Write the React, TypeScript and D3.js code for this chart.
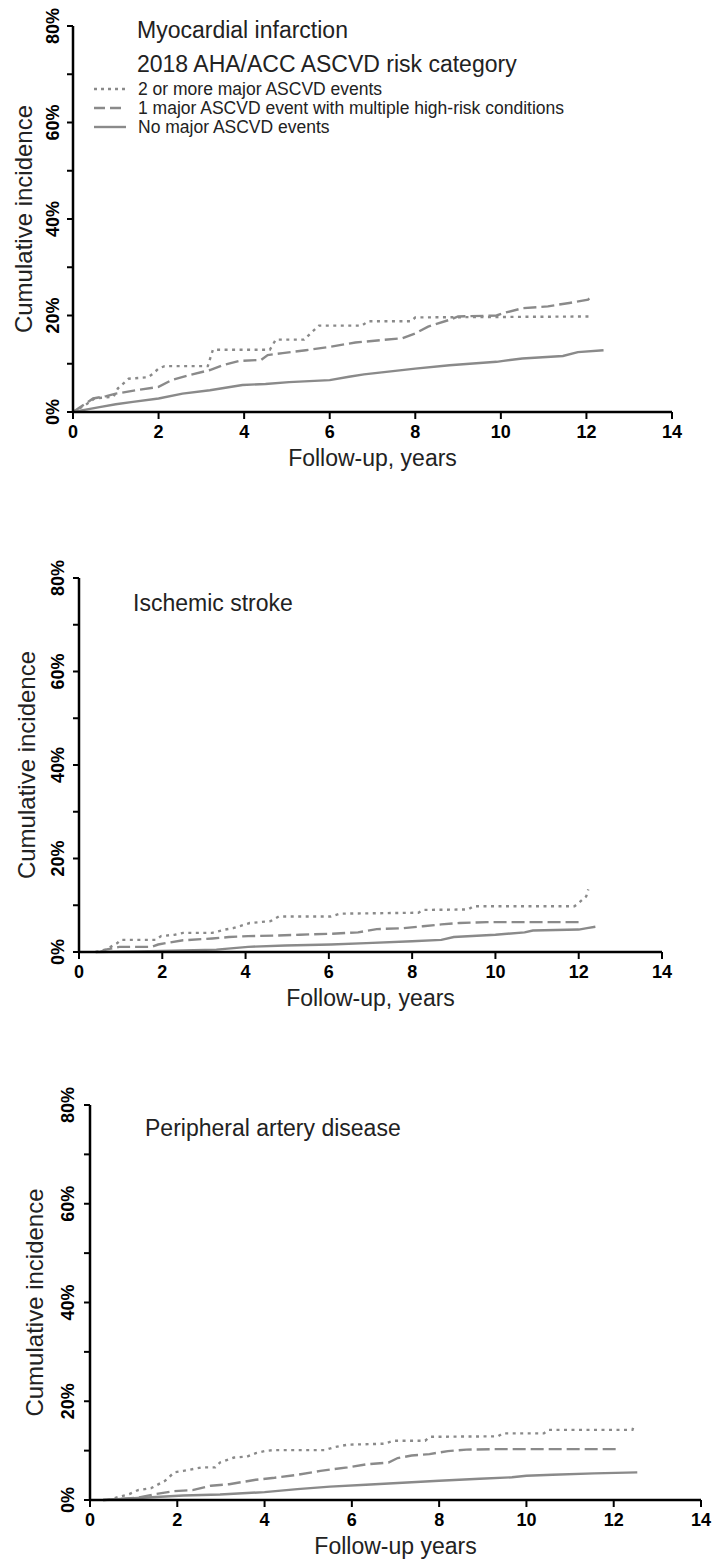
import React from "react";
import * as d3 from "d3";

// ---------- data (years, cumulative incidence %) ----------
const xTicks = [0, 2, 4, 6, 8, 10, 12, 14];
const yMajorTicks = [0, 20, 40, 60, 80];
const yMinorTicks = [10, 30, 50, 70];

const seriesNames = [
  "2 or more major ASCVD events",
  "1 major ASCVD event with multiple high-risk conditions",
  "No major ASCVD events",
];

const legendTitle = "2018 AHA/ACC ASCVD risk category";

// Myocardial infarction
const miTwoPlus: [number, number][] = [
  [0, 0], [0.3, 1.5], [0.5, 2.8], [0.95, 3.2], [1.05, 4.9], [1.3, 6.9], [1.75, 7.2],
  [1.85, 7.8], [2.0, 9.0], [2.14, 9.5], [3.15, 9.5], [3.27, 12.9], [4.6, 12.9], [4.74, 15.0],
  [5.4, 15.0], [5.6, 16.7], [5.75, 17.9], [6.75, 17.9], [6.9, 18.8], [7.9, 18.8], [8.0, 19.6],
  [12.1, 19.8],
];
const miOneMajor: [number, number][] = [
  [0, 0], [0.2, 1.2], [0.47, 2.8], [0.78, 3.3], [1.0, 3.8], [1.47, 4.5], [2.0, 5.2], [2.3, 6.6],
  [2.7, 7.6], [3.2, 8.7], [3.5, 9.7], [3.9, 10.6], [4.4, 10.8], [4.55, 11.8], [4.9, 12.2],
  [5.44, 12.8], [6.0, 13.5], [6.6, 14.4], [7.2, 14.9], [7.7, 15.3], [8.0, 16.3], [8.3, 17.7],
  [8.8, 19.1], [9.0, 19.8], [9.9, 20.0], [10.06, 20.5], [10.5, 21.5], [11.1, 21.9],
  [11.6, 22.6], [12.04, 23.3], [12.12, 24.0],
];
const miNone: [number, number][] = [
  [0, 0], [0.3, 0.5], [0.62, 1.0], [1.0, 1.6], [1.4, 2.1], [2.0, 2.8], [2.56, 3.8], [3.2, 4.5],
  [3.96, 5.6], [4.5, 5.8], [5.05, 6.2], [6.0, 6.6], [6.45, 7.3], [6.8, 7.8], [8.0, 9.0],
  [8.8, 9.7], [9.9, 10.4], [10.06, 10.6], [10.5, 11.1], [11.45, 11.6], [11.8, 12.4],
  [12.4, 12.8],
];

// Ischemic stroke
const stTwoPlus: [number, number][] = [
  [0.4, 0], [0.64, 0.5], [0.92, 1.9], [1.0, 2.6], [1.85, 2.6], [1.97, 3.4], [2.3, 3.7],
  [2.5, 4.1], [3.2, 4.1], [3.5, 4.8], [3.7, 5.1], [4.1, 6.2], [4.6, 6.6], [4.8, 7.6],
  [6.05, 7.6], [6.27, 8.2], [8.15, 8.4], [8.26, 9.0], [9.35, 9.1], [9.47, 9.8], [11.9, 9.8],
  [12.0, 10.5], [12.18, 11.9], [12.23, 13.4],
];
const stOneMajor: [number, number][] = [
  [0.5, 0], [0.64, 0.5], [0.97, 1.1], [1.74, 1.1], [1.9, 1.6], [2.08, 1.9], [2.5, 2.5],
  [3.2, 2.9], [3.6, 3.2], [4.06, 3.4], [4.7, 3.5], [5.3, 3.7], [6.05, 3.9], [6.7, 4.2],
  [7.15, 4.9], [7.8, 5.1], [8.26, 5.5], [8.7, 5.9], [9.14, 6.2], [9.8, 6.4], [12.0, 6.4],
];
const stNone: [number, number][] = [
  [0.4, 0], [1.4, 0.14], [3.3, 0.5], [4.06, 1.1], [4.95, 1.4], [6.05, 1.6], [6.9, 1.9],
  [8.0, 2.3], [8.7, 2.6], [9.0, 3.2], [10.0, 3.7], [10.7, 4.2], [10.9, 4.6], [12.0, 4.8],
  [12.2, 5.1], [12.4, 5.4],
];

// Peripheral artery disease
const padTwoPlus: [number, number][] = [
  [0.4, 0], [0.9, 1.2], [1.1, 2.0], [1.4, 2.4], [1.72, 3.9], [1.93, 5.6], [2.14, 5.9],
  [2.56, 6.6], [2.87, 6.6], [2.98, 7.6], [3.3, 8.6], [3.6, 8.8], [3.8, 9.5], [4.0, 9.9],
  [4.2, 10.1], [5.38, 10.1], [5.6, 10.7], [5.9, 11.2], [6.74, 11.4], [6.95, 12.0],
  [7.68, 12.0], [7.78, 12.8], [9.35, 12.9], [9.46, 13.5], [10.4, 13.5], [10.5, 14.2],
  [12.43, 14.2], [12.47, 15.3],
];
const padOneMajor: [number, number][] = [
  [0.3, 0], [0.7, 0.2], [1.1, 0.5], [1.5, 1.2], [1.93, 1.8], [2.35, 2.0], [2.77, 2.9],
  [3.19, 3.2], [3.8, 4.1], [4.23, 4.5], [4.75, 5.1], [5.28, 5.9], [5.9, 6.6], [6.32, 7.2],
  [6.84, 7.6], [7.05, 8.5], [7.37, 9.0], [7.78, 9.3], [8.2, 9.9], [8.62, 10.2], [9.25, 10.3],
  [12.07, 10.3],
];
const padNone: [number, number][] = [
  [0.3, 0], [1.1, 0.4], [2.14, 0.9], [2.98, 1.1], [4.0, 1.6], [4.75, 2.2], [5.5, 2.7],
  [6.32, 3.1], [7.37, 3.6], [8.0, 3.9], [8.93, 4.3], [9.67, 4.6], [10.0, 4.9], [10.6, 5.1],
  [11.55, 5.4], [12.54, 5.6],
];

// ---------- layout ----------
const W = 716;
const H = 1566;
const GRAY = "#8a8a8a";
const dashes = ["3,4.5", "13,5", null];
const FONT = "'Liberation Sans', Arial, sans-serif";

type Panel = {
  title: string;
  xLabel: string;
  series: [number, number][][];
  x0: number; x1: number; y0: number; y1: number;
  yLabelX: number; yTickX: number;
  titleX: number; titleY: number;
  legend?: boolean;
};

const panels: Panel[] = [
  {
    title: "Myocardial infarction", xLabel: "Follow-up, years",
    series: [miTwoPlus, miOneMajor, miNone],
    x0: 73, x1: 672, y0: 412, y1: 26, yLabelX: 23, yTickX: 53,
    titleX: 137, titleY: 38, legend: true,
  },
  {
    title: "Ischemic stroke", xLabel: "Follow-up, years",
    series: [stTwoPlus, stOneMajor, stNone],
    x0: 79, x1: 662, y0: 952, y1: 578, yLabelX: 26, yTickX: 58,
    titleX: 133, titleY: 611,
  },
  {
    title: "Peripheral artery disease", xLabel: "Follow-up years",
    series: [padTwoPlus, padOneMajor, padNone],
    x0: 90, x1: 701, y0: 1500, y1: 1105, yLabelX: 34, yTickX: 68,
    titleX: 145, titleY: 1136,
  },
];

function PanelView({ p }: { p: Panel }) {
  const x = d3.scaleLinear().domain([0, 14]).range([p.x0, p.x1]);
  const y = d3.scaleLinear().domain([0, 80]).range([p.y0, p.y1]);
  const line = d3
    .line<[number, number]>()
    .x((d) => x(d[0]))
    .y((d) => y(d[1]))
    .curve(d3.curveLinear);
  const midY = (p.y0 + p.y1) / 2;
  const midX = (p.x0 + p.x1) / 2;
  return (
    <g>
      {p.series.map((s, i) => (
        <path
          key={i}
          d={line(s) || ""}
          fill="none"
          stroke={GRAY}
          strokeWidth={2.4}
          strokeDasharray={dashes[i] || undefined}
        />
      ))}
      {/* y axis */}
      <line x1={x(0)} x2={x(0)} y1={y(0)} y2={y(80)} stroke="#000" strokeWidth={2.5} />
      {yMajorTicks.concat(yMinorTicks).map((t) => (
        <line key={"yt" + t} x1={x(0) - 6} x2={x(0)} y1={y(t)} y2={y(t)} stroke="#000" strokeWidth={2} />
      ))}
      {yMajorTicks.map((t) => (
        <text
          key={"yl" + t}
          transform={`translate(${p.yTickX},${y(t)}) rotate(-90)`}
          textAnchor="middle"
          dominantBaseline="central"
          fontFamily={FONT}
          fontWeight="bold"
          fontSize={18}
        >
          {t + "%"}
        </text>
      ))}
      <text
        transform={`translate(${p.yLabelX},${midY}) rotate(-90)`}
        textAnchor="middle"
        dominantBaseline="central"
        fontFamily={FONT}
        fontSize={24}
        fill="#222"
      >
        Cumulative incidence
      </text>
      {/* x axis */}
      <line x1={x(0) - 1} x2={x(14)} y1={y(0)} y2={y(0)} stroke="#000" strokeWidth={2.5} />
      {xTicks.map((t) => (
        <line key={"xt" + t} x1={x(t)} x2={x(t)} y1={y(0)} y2={y(0) + 7} stroke="#000" strokeWidth={2} />
      ))}
      {xTicks.map((t) => (
        <text
          key={"xl" + t}
          x={x(t)}
          y={y(0) + 26}
          textAnchor="middle"
          fontFamily={FONT}
          fontWeight="bold"
          fontSize={18}
        >
          {t}
        </text>
      ))}
      <text x={midX} y={y(0) + 54} textAnchor="middle" fontFamily={FONT} fontSize={23} fill="#222">
        {p.xLabel}
      </text>
      {/* title */}
      <text x={p.titleX} y={p.titleY} fontFamily={FONT} fontSize={23} fill="#222">
        {p.title}
      </text>
      {p.legend && (
        <g>
          <text x={p.titleX} y={72} fontFamily={FONT} fontSize={23} fill="#222">
            {legendTitle}
          </text>
          {seriesNames.map((n, i) => (
            <g key={n}>
              <line
                x1={94}
                x2={126}
                y1={89 + i * 19}
                y2={89 + i * 19}
                stroke={GRAY}
                strokeWidth={2.4}
                strokeDasharray={dashes[i] ? (i === 0 ? "3,4" : "11,5") : undefined}
              />
              <text x={138} y={95 + i * 19} fontFamily={FONT} fontSize={17.5} fill="#222">
                {n}
              </text>
            </g>
          ))}
        </g>
      )}
    </g>
  );
}

export default function App() {
  return (
    <svg
      width={W}
      height={H}
      viewBox={`0 0 ${W} ${H}`}
      style={{ position: "absolute", left: 0, top: 0, background: "#fff" }}
    >
      <rect width={W} height={H} fill="#fff" />
      {panels.map((p, i) => (
        <PanelView key={i} p={p} />
      ))}
    </svg>
  );
}
